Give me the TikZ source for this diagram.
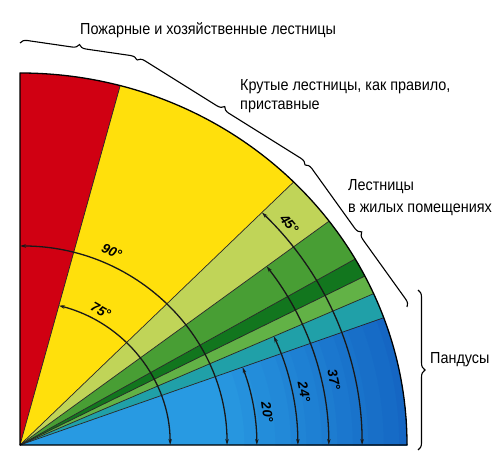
\documentclass[tikz,border=0pt]{standalone}
\usepackage{fontspec}
\setmainfont{Liberation Sans}
\newfontfamily\capfont[FakeStretch=0.9]{Liberation Sans}
\usetikzlibrary{arrows.meta,decorations.pathreplacing}
\definecolor{cRed}{RGB}{208,0,18}
\definecolor{cYellow}{RGB}{255,224,12}
\definecolor{cLime}{RGB}{192,212,88}
\definecolor{cGreenA}{RGB}{72,158,52}
\definecolor{cGreenB}{RGB}{18,118,30}
\definecolor{cGreenC}{RGB}{98,178,70}
\definecolor{cTeal}{RGB}{32,160,168}
\definecolor{cBlue}{RGB}{40,154,226}
\definecolor{cBlueOut}{RGB}{20,100,194}
\tikzset{
  sector/.style={draw=black!85, line width=0.7pt},
  dimarc/.style={draw=black!90, line width=1.3pt, {Stealth[length=6pt,width=3.5pt]}-{Stealth[length=6pt,width=3.5pt]}},
  anglbl/.style={font=\bfseries\itshape\fontsize{13.5}{13.5}\selectfont, inner sep=0pt},
  caption/.style={font=\capfont\fontsize{16}{16}\selectfont, anchor=west, inner sep=0pt},
  bracepath/.style={draw=black, line width=1.1pt, decorate, decoration={brace, amplitude=7pt}}
}
\begin{document}
\begin{tikzpicture}[x=1pt,y=1pt]
\useasboundingbox (0,0) rectangle (500,455);
\fill[white] (0,0) rectangle (500,455);
\begin{scope}[shift={(20,10)}, x=387pt, y=372pt]
  \coordinate (O) at (0,0);
  \foreach \a/\b/\c in {0/20/cBlue, 20/24/cTeal, 24/27/cGreenC, 27/30/cGreenB, 30/37/cGreenA, 37/45/cLime, 45/75/cYellow, 75/90/cRed}
    \fill[\c] (O) -- (\a:1) arc[start angle=\a, end angle=\b, radius=1] -- cycle;
  % darker rim of the blue sector
  \foreach \i in {1,...,12} {
    \pgfmathsetmacro{\rr}{0.5+0.04*\i}
    \pgfmathsetmacro{\pp}{8*\i}
    \fill[cBlueOut!\pp!cBlue] (0:\rr) arc[start angle=0, end angle=20, radius=\rr] -- (20:1) arc[start angle=20, end angle=0, radius=1] -- cycle;
  }
  \foreach \a in {20,24,27,30,37,45,75}
    \draw[sector] (O) -- (\a:1);
  \draw[line width=1.3pt, line join=round] (90:1) arc[start angle=90, end angle=0, radius=1] -- (O) -- cycle;
  % dimension arcs
  \foreach \a/\r in {75/0.388, 90/0.535, 20/0.612, 24/0.718, 37/0.798, 45/0.884}
    \draw[dimarc] (\a:\r) arc[start angle=\a, end angle=0, radius=\r];
  % labels
  \node[anglbl, rotate=-24.5] (l90) at (65.5:0.572) {90°};
  \node[anglbl, rotate=-30] (l75) at (60:0.418) {75°};
  \node[anglbl, rotate=-50] (l45) at (40.5:0.915) {45°};
  \node[anglbl, rotate=-78] (l37) at (12.2:0.83) {37°};
  \node[anglbl, rotate=-79] (l24) at (11:0.748) {24°};
  \node[anglbl, rotate=-82] (l20) at (7.9:0.645) {20°};
\end{scope}
% braces
\coordinate (b1s) at (20,412);
\coordinate (b1e) at (137,395);
\coordinate (b2e) at (305,290);
\coordinate (b3e) at (407,148);
\coordinate (b4s) at (418,165);
\coordinate (b4e) at (418,5);
\draw[bracepath] (b1s) -- (b1e);
\draw[bracepath] (b1e) -- (b2e);
\draw[bracepath] (b2e) -- (b3e);
\draw[bracepath] (b4s) -- (b4e);
% captions
\node[caption] (t1) at (80,425) {Пожарные и хозяйственные лестницы};
\node[caption] (t2) at (240,368) {Крутые лестницы, как правило,};
\node[caption] (t3) at (240,348) {приставные};
\node[caption] (t4) at (348,268) {Лестницы};
\node[caption] (t5) at (348,245) {в жилых помещениях};
\node[caption] (t6) at (430,95) {Пандусы};
\end{tikzpicture}
\end{document}
